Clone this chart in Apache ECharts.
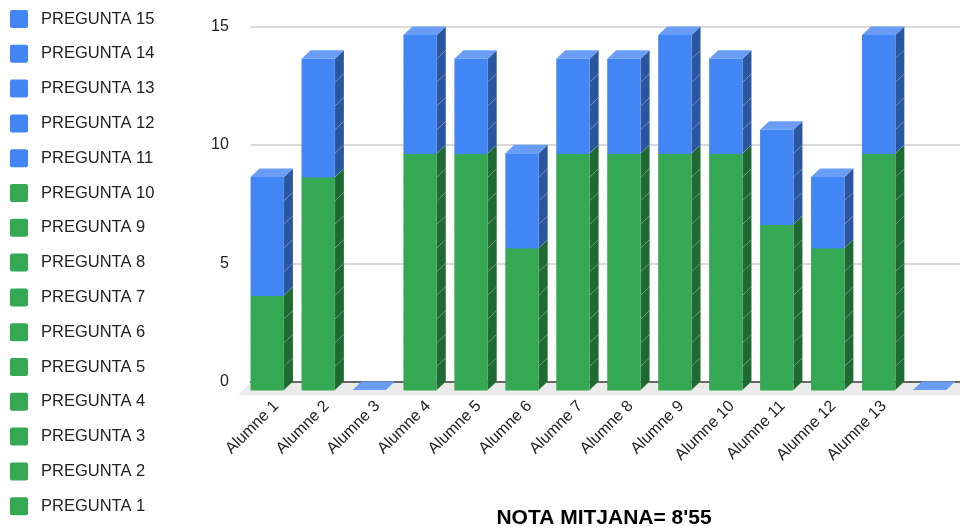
<!DOCTYPE html>
<html>
<head>
<meta charset="utf-8">
<script src="https://cdn.jsdelivr.net/npm/echarts@6/dist/echarts.min.js"></script>
<style>
  html, body { margin: 0; padding: 0; background: #fff; }
  #chart { width: 960px; height: 530px; }
</style>
</head>
<body>
<div id="chart"></div>
<script>
// Students (last column is an empty row of the sheet)
const students = ['Alumne 1', 'Alumne 2', 'Alumne 3', 'Alumne 4', 'Alumne 5', 'Alumne 6', 'Alumne 7',
  'Alumne 8', 'Alumne 9', 'Alumne 10', 'Alumne 11', 'Alumne 12', 'Alumne 13', ''];

const questionNames = ['PREGUNTA 1', 'PREGUNTA 2', 'PREGUNTA 3', 'PREGUNTA 4', 'PREGUNTA 5',
  'PREGUNTA 6', 'PREGUNTA 7', 'PREGUNTA 8', 'PREGUNTA 9', 'PREGUNTA 10',
  'PREGUNTA 11', 'PREGUNTA 12', 'PREGUNTA 13', 'PREGUNTA 14', 'PREGUNTA 15'];

// Points per question for each student
const p1  = [1, 1, 0, 1, 1, 1, 1, 1, 1, 1, 1, 1, 1, 0];
const p2  = [1, 1, 0, 1, 1, 1, 1, 1, 1, 1, 1, 1, 1, 0];
const p3  = [1, 1, 0, 1, 1, 1, 1, 1, 1, 1, 1, 1, 1, 0];
const p4  = [1, 1, 0, 1, 1, 1, 1, 1, 1, 1, 1, 1, 1, 0];
const p5  = [0, 1, 0, 1, 1, 1, 1, 1, 1, 1, 1, 1, 1, 0];
const p6  = [0, 1, 0, 1, 1, 1, 1, 1, 1, 1, 1, 1, 1, 0];
const p7  = [0, 1, 0, 1, 1, 0, 1, 1, 1, 1, 1, 0, 1, 0];
const p8  = [0, 1, 0, 1, 1, 0, 1, 1, 1, 1, 0, 0, 1, 0];
const p9  = [0, 1, 0, 1, 1, 0, 1, 1, 1, 1, 0, 0, 1, 0];
const p10 = [0, 0, 0, 1, 1, 0, 1, 1, 1, 1, 0, 0, 1, 0];
const p11 = [1, 1, 0, 1, 1, 1, 1, 1, 1, 1, 1, 1, 1, 0];
const p12 = [1, 1, 0, 1, 1, 1, 1, 1, 1, 1, 1, 1, 1, 0];
const p13 = [1, 1, 0, 1, 1, 1, 1, 1, 1, 1, 1, 1, 1, 0];
const p14 = [1, 1, 0, 1, 1, 1, 1, 1, 1, 1, 1, 0, 1, 0];
const p15 = [1, 1, 0, 1, 0, 0, 0, 0, 1, 0, 0, 0, 1, 0];
const answers = [p1, p2, p3, p4, p5, p6, p7, p8, p9, p10, p11, p12, p13, p14, p15];

const yTicks = [0, 5, 10, 15];
const chartTitle = "NOTA MITJANA= 8'55";

// Face colours: front / side / top
const GREEN = { front: '#34a853', side: '#1e6a32', top: '#5cbc74' };
const BLUE  = { front: '#4285f4', side: '#2a56a0', top: '#6a9ef6' };
const DX = 9, DY = 8.5;           // depth offset of the 3D columns
const FONT = 'Liberation Sans, Arial, sans-serif';

const chart = echarts.init(document.getElementById('chart'), null, { renderer: 'canvas' });

function palette(qi) { return qi < 10 ? GREEN : BLUE; }

// Running totals so every question sits on top of the previous ones
const bases = [];
let running = students.map(() => 0);
answers.forEach((arr) => {
  bases.push(running.slice());
  running = running.map((v, i) => v + arr[i]);
});
const totals = running;

// Which question forms the lid of each column
const topIndex = students.map((_, ci) => {
  let t = -1;
  answers.forEach((arr, qi) => { if (arr[ci] > 0) t = qi; });
  return t;
});

function makeRender(qi) {
  const col = palette(qi);
  return function (params, api) {
    const ci = api.value(0), lo = api.value(1), hi = api.value(2);
    const band = api.size([1, 0])[0];
    const w = band * 0.655;
    const pb = api.coord([ci, lo]);
    const pt = api.coord([ci, hi]);
    const x0 = pb[0] - w / 2, x1 = pb[0] + w / 2, yb = pb[1], yt = pt[1];
    const children = [];
    if (hi - lo > 0) {
      children.push({
        type: 'rect', shape: { x: x0, y: yt, width: w, height: yb - yt + 0.6 },
        style: { fill: col.front }
      });
      children.push({
        type: 'polygon',
        shape: { points: [[x1, yb], [x1 + DX, yb - DY], [x1 + DX, yt - DY], [x1, yt]] },
        style: { fill: col.side, stroke: 'rgba(255,255,255,0.13)', lineWidth: 0.8 }
      });
      if (topIndex[ci] === qi) {
        children.push({
          type: 'polygon',
          shape: { points: [[x0, yt], [x1, yt], [x1 + DX, yt - DY], [x0 + DX, yt - DY]] },
          style: { fill: col.top }
        });
      }
    } else if (qi === answers.length - 1 && totals[ci] === 0) {
      // empty column: only the flat lid of the stack is visible
      children.push({
        type: 'polygon',
        shape: { points: [[x0, yb], [x1, yb], [x1 + DX, yb - DY], [x0 + DX, yb - DY]] },
        style: { fill: col.top }
      });
    }
    return { type: 'group', children: children };
  };
}

const barSeries = answers.map((arr, qi) => ({
  name: questionNames[qi],
  type: 'custom',
  xAxisIndex: 0,
  yAxisIndex: 0,
  z: 3,
  itemStyle: { color: palette(qi).front },
  renderItem: makeRender(qi),
  encode: { x: 0, y: [1, 2] },
  data: arr.map((v, ci) => [ci, bases[qi][ci], bases[qi][ci] + v])
}));

// Floor of the 3D scene, drawn on the back plane
const floorSeries = {
  type: 'custom',
  xAxisIndex: 1,
  yAxisIndex: 1,
  z: -1,
  silent: true,
  data: [[0, 0]],
  renderItem: function (params, api) {
    const cs = params.coordSys;
    const yb = cs.y + cs.height;
    return {
      type: 'polygon',
      shape: { points: [[cs.x, yb], [cs.x + cs.width, yb], [cs.x + cs.width, yb + 13.5], [cs.x - 12.5, yb + 13.5]] },
      style: { fill: '#ebebeb' }
    };
  }
};

const gridW = 713.3;
const legendIcon = 'path://M2,0H16A2,2 0 0 1 18,2V16A2,2 0 0 1 16,18H2A2,2 0 0 1 0,16V2A2,2 0 0 1 2,0Z';

const option = {
  animation: false,
  backgroundColor: '#ffffff',
  title: {
    text: chartTitle,
    left: 599,
    top: 503,
    textAlign: 'center',
    textStyle: { fontFamily: FONT, fontSize: 21, fontWeight: 'bold', color: '#000' }
  },
  legend: {
    orient: 'vertical',
    left: 5,
    top: 5,
    itemWidth: 18,
    itemHeight: 18,
    itemGap: 16.8,
    icon: legendIcon,
    selectedMode: false,
    data: questionNames.slice().reverse(),
    textStyle: { fontFamily: FONT, fontSize: 16.5, color: '#222', padding: [0, 0, 0, 8] }
  },
  grid: [
    // front plane of the columns
    { left: 241.8, top: 35, width: gridW, height: 355 },
    // back wall with grid lines and axis labels
    { left: 250.8, top: 26.7, width: gridW, height: 355 }
  ],
  xAxis: [
    { type: 'category', gridIndex: 0, data: students, show: false },
    {
      type: 'category', gridIndex: 1, data: students,
      axisTick: { show: false },
      axisLine: { show: true, lineStyle: { color: '#666', width: 2 } },
      axisLabel: { interval: 0, rotate: 45, margin: 22, fontFamily: FONT, fontSize: 16, color: '#222' }
    }
  ],
  yAxis: [
    { type: 'value', gridIndex: 0, min: yTicks[0], max: yTicks[yTicks.length - 1], interval: 5, show: false },
    {
      type: 'value', gridIndex: 1, min: yTicks[0], max: yTicks[yTicks.length - 1], interval: 5,
      axisLine: { show: false },
      axisTick: { show: false },
      splitLine: { lineStyle: { color: '#cccccc', width: 1.5 } },
      axisLabel: { margin: 22, fontFamily: FONT, fontSize: 16, color: '#222' }
    }
  ],
  series: [floorSeries].concat(barSeries)
};

chart.setOption(option);
</script>
</body>
</html>
